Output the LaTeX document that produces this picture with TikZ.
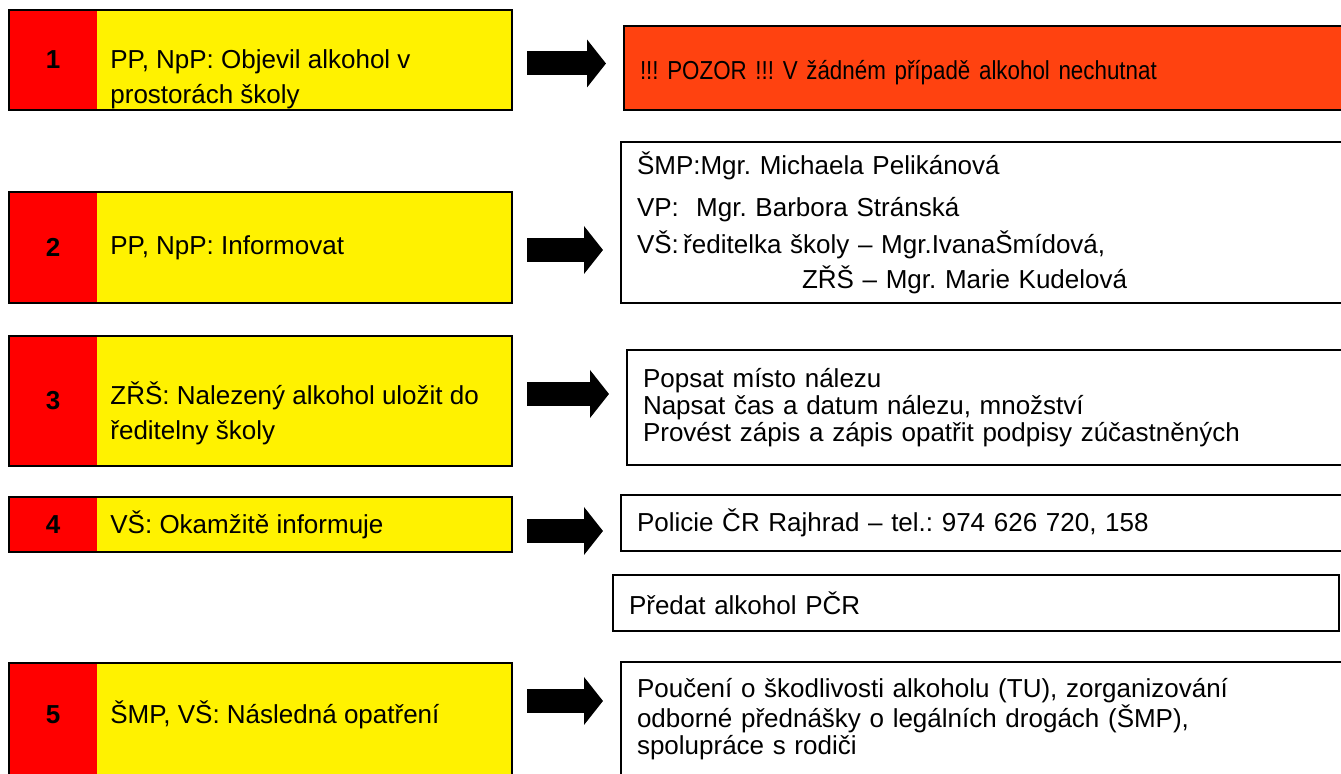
\documentclass[tikz,border=0pt]{standalone}
\usepackage{fontspec}
\setmainfont{Liberation Sans}
\newfontfamily\pozorfont[FakeStretch=0.86]{Liberation Sans}
\usetikzlibrary{arrows.meta,positioning}
\definecolor{pozor}{HTML}{FF4210}
\frenchspacing

\tikzset{
  stepbox/.style={draw,line width=1pt,fill=yellow,outer sep=0pt,inner sep=0pt,
    minimum width=251.5pt,
    path picture={\fill[red] (path picture bounding box.north west)
      rectangle ([xshift=44pt]path picture bounding box.south west);}},
  stepnum/.style={font=\fontsize{13pt}{15pt}\selectfont\bfseries},
  steptext/.style={anchor=west,align=left,inner sep=0pt,
    font=\fontsize{13pt}{17.5pt}\selectfont},
  infobox/.style={draw,line width=1pt,fill=white,anchor=north west,align=left,
    outer sep=0pt,inner xsep=8pt,inner ysep=0pt},
  bigarrow/.style={line width=12pt,-{Triangle[length=9.5pt,width=23.5pt]}}
}

\begin{document}
\begin{tikzpicture}[x=0.5pt,y=-0.5pt,font=\fontsize{13pt}{15pt}\selectfont]

\useasboundingbox (0,0) rectangle (1341,774);
\clip (0,0) rectangle (1341,774);

\node[stepbox,minimum height=50pt] (b1) at (260.5,60) {};
\node[stepbox,minimum height=55.5pt] (b2) at (260.5,247.5) {};
\node[stepbox,minimum height=65pt] (b3) at (260.5,401) {};
\node[stepbox,minimum height=27.5pt] (b4) at (260.5,524.5) {};
\node[stepbox,minimum height=57pt] (b5) at (260.5,720) {};

\node[stepnum] (n1) at ([xshift=22pt]b1.west) {1};
\node[stepnum] (n2) at ([xshift=22pt]b2.west) {2};
\node[stepnum] (n3) at ([xshift=22pt]b3.west) {3};
\node[stepnum] (n4) at ([xshift=22pt]b4.west) {4};
\node[stepnum] (n5) at ([xshift=22pt,yshift=2.5pt]b5.west) {5};

\node[steptext] (t1) at ([xshift=50.5pt,yshift=-9.75pt]b1.west) {PP, NpP: Objevil alkohol v\\prostorách školy};
\node[steptext] (t2) at ([xshift=50.5pt]b2.west) {PP, NpP: Informovat};
\node[steptext] (t3) at ([xshift=50.5pt,yshift=-6.25pt]b3.west) {ZŘŠ: Nalezený alkohol uložit do\\ředitelny školy};
\node[steptext] (t4) at ([xshift=50.5pt]b4.west) {VŠ: Okamžitě informuje};
\node[steptext] (t5) at ([xshift=50.5pt,yshift=2.5pt]b5.west) {ŠMP, VŠ: Následná opatření};

\node[infobox,fill=pozor,text width=352pt,minimum height=42pt,font=\pozorfont\fontsize{13pt}{15pt}\selectfont] (r1) at (624,26) {\rule{0pt}{14pt}!!! POZOR !!! V žádném případě alkohol nechutnat};
\node[infobox,text width=353.5pt,minimum height=80.5pt,font=\fontsize{13pt}{17.5pt}\selectfont] (r2) at (621,142) {ŠMP:Mgr. Michaela Pelikánová\\[3.5pt]
  VP:\ \ Mgr. Barbora Stránská\\[1pt]
  VŠ:\,ředitelka školy – Mgr.IvanaŠmídová,\\
  \hspace*{82.5pt}ZŘŠ – Mgr. Marie Kudelová};
\node[infobox,text width=350.5pt,minimum height=57.5pt,font=\fontsize{13pt}{13.5pt}\selectfont] (r3) at (627,350) {Popsat místo nálezu\\
  Napsat čas a datum nálezu, množství\\
  Provést zápis a zápis opatřit podpisy zúčastněných};
\node[infobox,text width=353.5pt,minimum height=28pt] (r4) at (621,495) {Policie ČR Rajhrad – tel.: 974 626 720, 158};
\node[infobox,text width=347pt,minimum height=28pt] (r4b) at (613,575) {Předat alkohol PČR};
\node[infobox,text width=353.5pt,minimum height=57.5pt,font=\fontsize{13pt}{13.5pt}\selectfont] (r5) at (621,662) {Poučení o škodlivosti alkoholu (TU), zorganizování\\
  odborné přednášky o legálních drogách (ŠMP),\\
  spolupráce s rodiči};

\draw[bigarrow] ([xshift=7.5pt,yshift=-1.75pt]b1.east) -- ([xshift=-9pt,yshift=-1.75pt]b1.east -| r1.west);
\draw[bigarrow] ([xshift=7.5pt,yshift=-1.25pt]b2.east) -- ([xshift=-9pt,yshift=-1.25pt]b2.east -| r2.west);
\draw[bigarrow] ([xshift=7.5pt,yshift=3.5pt]b3.east) -- ([xshift=-9pt,yshift=3.5pt]b3.east -| r3.west);
\draw[bigarrow] ([xshift=7.5pt,yshift=-3.25pt]b4.east) -- ([xshift=-9pt,yshift=-3.25pt]b4.east -| r4.west);
\draw[bigarrow] ([xshift=7.5pt,yshift=9.5pt]b5.east) -- ([xshift=-9pt,yshift=9.5pt]b5.east -| r5.west);

\end{tikzpicture}
\end{document}
